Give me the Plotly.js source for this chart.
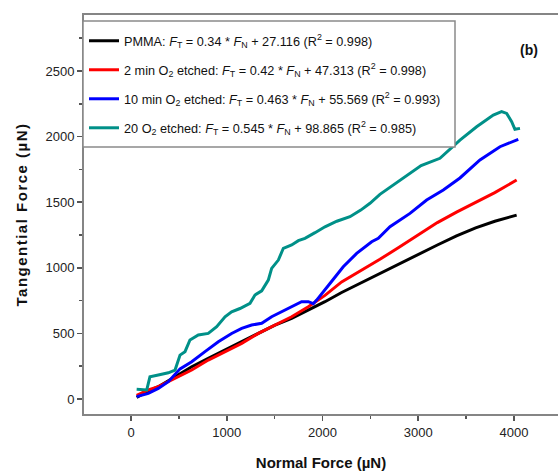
<!DOCTYPE html>
<html>
<head>
<meta charset="utf-8">
<script src="https://cdn.plot.ly/plotly-3.0.1.min.js"></script>
<style>html,body{margin:0;padding:0;background:#fff;}</style>
</head>
<body>
<div id="chart" style="width:558px;height:473px;"></div>
<script>
// Series names (legend)
const seriesNames = [
  "PMMA: <i>F</i><sub>T</sub> = 0.34 * <i>F</i><sub>N</sub> + 27.116 (R<sup>2</sup> = 0.998)",
  "2 min O<sub>2</sub> etched: <i>F</i><sub>T</sub> = 0.42 * <i>F</i><sub>N</sub> + 47.313 (R<sup>2</sup> = 0.998)",
  "10 min O<sub>2</sub> etched: <i>F</i><sub>T</sub> = 0.463 * <i>F</i><sub>N</sub> + 55.569 (R<sup>2</sup> = 0.993)",
  "20 O<sub>2</sub> etched: <i>F</i><sub>T</sub> = 0.545 * <i>F</i><sub>N</sub> + 98.865 (R<sup>2</sup> = 0.985)"
];

// PMMA (black)
const pmmaX = [59, 150, 285, 460, 634, 807, 982, 1156, 1330, 1504, 1678, 1852, 2026, 2200, 2400, 2600, 2800, 3000, 3200, 3400, 3600, 3800, 4028];
const pmmaY = [13, 50, 94, 170, 246, 310, 373, 437, 500, 564, 615, 678, 742, 812, 885, 958, 1031, 1103, 1174, 1243, 1305, 1355, 1402];

// 2 min O2 etched (red)
const min2X = [59, 181, 285, 460, 634, 807, 982, 1156, 1330, 1504, 1678, 1852, 2026, 2200, 2400, 2600, 2800, 3000, 3200, 3400, 3600, 3800, 4028];
const min2Y = [28, 69, 94, 157, 221, 297, 361, 424, 500, 564, 627, 704, 790, 893, 978, 1065, 1157, 1253, 1345, 1425, 1500, 1573, 1669];

// 10 min O2 etched (blue)
const min10X = [59, 181, 285, 390, 512, 634, 773, 912, 1051, 1156, 1260, 1365, 1469, 1574, 1678, 1782, 1852, 1904, 1939, 1991, 2078, 2217, 2357, 2514, 2583, 2705, 2914, 3088, 3262, 3436, 3645, 3854, 4045];
const min10Y = [18, 43, 81, 132, 230, 284, 361, 437, 500, 539, 564, 577, 627, 665, 704, 742, 742, 727, 754, 805, 881, 1008, 1110, 1199, 1225, 1313, 1415, 1517, 1593, 1685, 1822, 1923, 1979];

// 20 O2 etched (teal)
const min20X = [59, 164, 181, 198, 285, 390, 460, 512, 564, 616, 703, 807, 895, 982, 1051, 1138, 1243, 1295, 1365, 1417, 1434, 1469, 1539, 1591, 1678, 1748, 1817, 1922, 2026, 2150, 2287, 2400, 2496, 2600, 2720, 2850, 3030, 3227, 3436, 3610, 3784, 3871, 3924, 3976, 4010, 4063];
const min20Y = [74, 69, 120, 170, 183, 200, 221, 335, 361, 450, 488, 500, 551, 627, 665, 690, 729, 793, 825, 882, 907, 996, 1059, 1149, 1174, 1207, 1225, 1268, 1313, 1355, 1390, 1440, 1492, 1560, 1620, 1690, 1780, 1835, 1974, 2075, 2165, 2190, 2177, 2114, 2056, 2063];

const xTickVals = [0, 1000, 2000, 3000, 4000];
const yTickVals = [0, 500, 1000, 1500, 2000, 2500];

const colors = ["#000000", "#ff0000", "#0000ff", "#009088"];
const xs = [pmmaX, min2X, min10X, min20X];
const ys = [pmmaY, min2Y, min10Y, min20Y];

const traces = xs.map((x, i) => ({
  x: x, y: ys[i], type: "scatter", mode: "lines",
  name: seriesNames[i], legendgroup: "g" + i,
  line: {color: colors[i], width: 3}
}));

const axisFont = {family: "Liberation Sans, Arial, sans-serif", size: 13, color: "#222"};
const layout = {
  width: 558, height: 473,
  margin: {l: 84, r: 0, t: 15, b: 59},
  paper_bgcolor: "#fff", plot_bgcolor: "#fff",
  showlegend: true,
  legend: {
    x: 0, xanchor: "left", y: 1 - 11/399, yanchor: "top",
    bgcolor: "rgba(0,0,0,0)", borderwidth: 0,
    font: {family: "Liberation Sans, Arial, sans-serif", size: 12.7, color: "#111"},
    tracegroupgap: 9.5, itemwidth: 30
  },
  shapes: [{
    type: "rect", xref: "paper", yref: "paper", layer: "above",
    x0: (83 - 84) / 474, x1: (455 - 84) / 474,
    y0: 1 - (147 - 15) / 399, y1: 1 - (21 - 15) / 399,
    fillcolor: "#fff", line: {color: "#8a8a8a", width: 1.5}
  }],
  xaxis: {
    range: [-491, 4460], tickvals: xTickVals, ticktext: xTickVals.map(String),
    showgrid: false, zeroline: false,
    showline: true, linecolor: "#858585", linewidth: 2, mirror: true,
    ticks: "outside", ticklen: 5, tickwidth: 1.5, tickcolor: "#555",
    minor: {tickvals: [500, 1500, 2500, 3500], ticks: "outside", ticklen: 3, tickcolor: "#555", tickwidth: 1.5},
    tickfont: axisFont,
    title: {text: "<b>Normal Force (µN)</b>", font: {family: "Liberation Sans, Arial, sans-serif", size: 15, color: "#111"}, standoff: 19}
  },
  yaxis: {
    range: [-114, 2927], tickvals: yTickVals, ticktext: yTickVals.map(String),
    showgrid: false, zeroline: false,
    showline: true, linecolor: "#858585", linewidth: 2, mirror: false,
    ticks: "outside", ticklen: 5, tickwidth: 1.5, tickcolor: "#555",
    minor: {tickvals: [250, 750, 1250, 1750, 2250, 2750], ticks: "outside", ticklen: 3, tickcolor: "#555", tickwidth: 1.5},
    tickfont: axisFont,
    title: {text: "<b>Tangential Force (µN)</b>", font: {family: "Liberation Sans, Arial, sans-serif", size: 15, color: "#111"}, standoff: 14}
  },
  annotations: [{
    text: "<b>(b)</b>", xref: "paper", yref: "paper",
    x: (540 - 84) / 474, y: 1 - (40 - 15) / 399, showarrow: false,
    font: {family: "Liberation Sans, Arial, sans-serif", size: 14, color: "#111"}
  }]
};

Plotly.newPlot("chart", traces, layout, {displayModeBar: false, staticPlot: true}).then(() => {
  const t = document.querySelector(".ytitle");
  if (t) t.style.letterSpacing = "1.5px";
});
</script>
</body>
</html>
